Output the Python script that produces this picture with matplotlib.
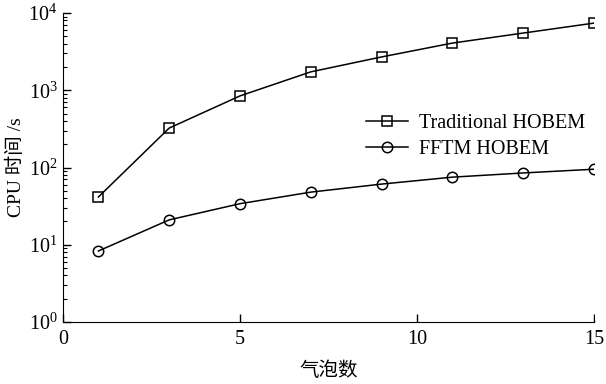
import numpy as np
import matplotlib.pyplot as plt
from matplotlib.patches import Rectangle
from matplotlib.ticker import LogLocator, NullFormatter

plt.rcParams['font.family'] = ['Liberation Serif', 'Noto Sans CJK SC']
plt.rcParams['mathtext.fontset'] = 'stix'

bubbles = [1, 3, 5, 7, 9, 11, 13, 15]
traditional = [41.5, 324, 845, 1730, 2700, 4080, 5500, 7400]
fftm = [8.3, 21, 34, 48, 61, 75, 85, 95]

fig = plt.figure(figsize=(6.06, 3.84), dpi=100)
ax = fig.add_axes([63/606, 1 - 322/384, (594-63)/606, (322-13)/384])

ax.plot(bubbles, traditional, 'k-', marker='s', ms=7.5, mfc='none', mec='k',
        mew=1.1, lw=1.1, label='Traditional HOBEM')
ax.plot(bubbles, fftm, 'k-', marker='o', ms=7.5, mfc='none', mec='k',
        mew=1.1, lw=1.1, label='FFTM HOBEM')

# markers at x=15 are cut at the axes edge in the original
fig.add_artist(Rectangle((595/606, 1 - 320/384), 1, 318/384,
                         transform=fig.transFigure, fc='white', ec='none',
                         zorder=10))

ax.set_yscale('log')
ax.set_ylim(1, 1e4)
ax.set_xlim(0, 15)
ax.set_xticks([0, 5, 10, 15])
ax.yaxis.set_minor_locator(LogLocator(base=10, subs=np.arange(2, 10)))
ax.yaxis.set_minor_formatter(NullFormatter())

for s in ['top', 'right']:
    ax.spines[s].set_visible(False)
ax.tick_params(axis='both', which='major', direction='in', length=6, labelsize=14.5, width=1)
ax.tick_params(axis='y', which='minor', direction='in', length=3, width=0.8)
ax.tick_params(axis='x', pad=6)
ax.tick_params(axis='y', pad=4)

ax.set_xlabel('气泡数', fontsize=14, labelpad=9)
ax.set_ylabel('CPU 时间 /s', fontsize=14, labelpad=2)

ax.legend(loc='upper left', bbox_to_anchor=(0.57, 0.672), frameon=False,
          fontsize=14.5, handlelength=2.1, handletextpad=0.55, labelspacing=0.3,
          borderaxespad=0, borderpad=0)

plt.savefig('out.png', dpi=100)
